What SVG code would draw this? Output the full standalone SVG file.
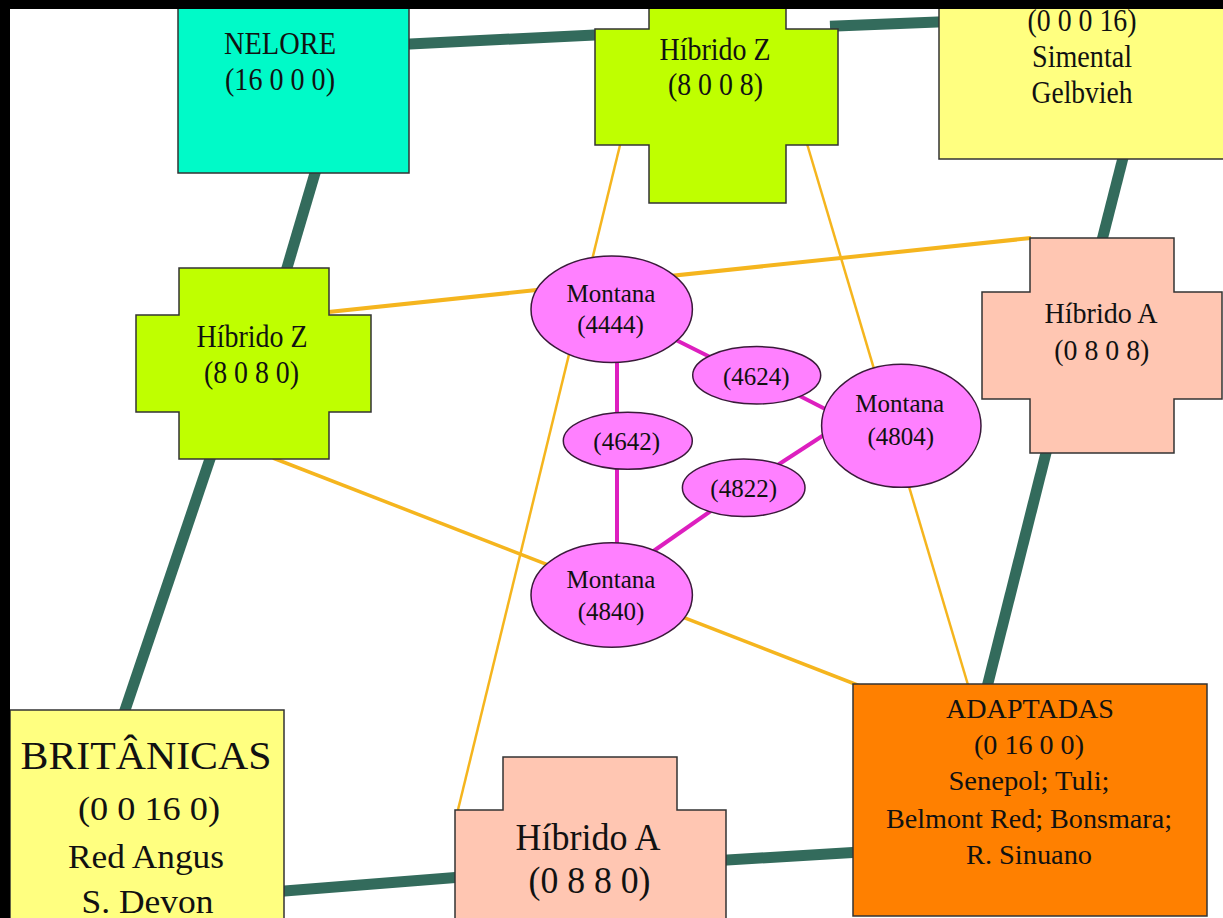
<svg xmlns="http://www.w3.org/2000/svg" width="1223" height="918" viewBox="0 0 1223 918">
  <style>
    .lbl { font-family: "Liberation Serif", "Times New Roman", serif; fill: #111; text-anchor: middle; }
    .box { stroke: #333; stroke-width: 1.5; }
    .oval { fill: #FF80FF; stroke: #3a1a3a; stroke-width: 1.5; }
    .ring { stroke: #336B5C; stroke-width: 11; fill: none; }
    .gold { stroke: #F5B51E; fill: none; }
    .mag { stroke: #DD1FBF; stroke-width: 4; fill: none; }
    .hz { fill: #BFFF00; }
    .ha { fill: #FFC6B2; }
    .pale { fill: #FFFF80; }
  </style>

  <rect x="0" y="0" width="1223" height="918" fill="#ffffff"/>

  <!-- connectors -->
  <g id="connectors">
    <!-- outer ring of thick links -->
    <line class="ring" x1="400" y1="44.4" x2="605" y2="34.5"/>
    <line class="ring" x1="830" y1="26.3" x2="950" y2="21.6"/>
    <line class="ring" x1="1125" y1="150" x2="1100" y2="248"/>
    <line class="ring" x1="1048" y1="445" x2="985" y2="695"/>
    <line class="ring" x1="715" y1="860.7" x2="865" y2="851.8"/>
    <line class="ring" x1="465" y1="876.7" x2="275" y2="891.7"/>
    <line class="ring" x1="122" y1="719" x2="213" y2="450"/>
    <line class="ring" x1="284" y1="278" x2="318" y2="163"/>

    <!-- hybrid cross links -->
    <line class="gold" stroke-width="4" x1="300" y1="315" x2="1031" y2="238"/>
    <line class="gold" stroke-width="2.5" x1="622" y1="137" x2="456" y2="818"/>
    <line class="gold" stroke-width="2.5" x1="805" y1="137" x2="971" y2="695"/>
    <line class="gold" stroke-width="3.5" x1="273" y1="458" x2="860" y2="686"/>

    <!-- Montana links -->
    <line class="mag" x1="617" y1="360" x2="617" y2="548"/>
    <line class="mag" x1="670" y1="337" x2="720" y2="362"/>
    <line class="mag" x1="790" y1="391" x2="835" y2="414"/>
    <line class="mag" x1="830" y1="431" x2="770" y2="470"/>
    <line class="mag" x1="715" y1="508" x2="645" y2="557"/>
  </g>

  <!-- nodes -->
  <g id="nelore">
    <rect class="box" x="178" y="-10" width="231" height="183" fill="#00FAC8"/>
    <text class="lbl" x="280" y="54" font-size="31" textLength="112" lengthAdjust="spacingAndGlyphs">NELORE</text>
    <text class="lbl" x="280" y="90" font-size="31" textLength="110" lengthAdjust="spacingAndGlyphs">(16 0 0 0)</text>
  </g>

  <g id="hibrido-z-8008">
    <polygon class="box hz" points="649,-30 786,-30 786,29 838,29 838,145 786,145 786,203 649,203 649,145 595,145 595,29 649,29"/>
    <text class="lbl" x="715" y="60" font-size="31" textLength="111" lengthAdjust="spacingAndGlyphs">Híbrido Z</text>
    <text class="lbl" x="715.5" y="95" font-size="31" textLength="95" lengthAdjust="spacingAndGlyphs">(8 0 0 8)</text>
  </g>

  <g id="simental">
    <rect class="box pale" x="939" y="-10" width="300" height="169"/>
    <text class="lbl" x="1082" y="30.5" font-size="31" textLength="109" lengthAdjust="spacingAndGlyphs">(0 0 0 16)</text>
    <text class="lbl" x="1082" y="66.7" font-size="31" textLength="100" lengthAdjust="spacingAndGlyphs">Simental</text>
    <text class="lbl" x="1082" y="103" font-size="31" textLength="101" lengthAdjust="spacingAndGlyphs">Gelbvieh</text>
  </g>

  <g id="hibrido-z-8080">
    <polygon class="box hz" points="179,268 329,268 329,315 371,315 371,412 329,412 329,459 179,459 179,412 136,412 136,315 179,315"/>
    <text class="lbl" x="252" y="346.7" font-size="31" textLength="111" lengthAdjust="spacingAndGlyphs">Híbrido Z</text>
    <text class="lbl" x="251.5" y="383" font-size="31" textLength="95" lengthAdjust="spacingAndGlyphs">(8 0 8 0)</text>
  </g>

  <g id="hibrido-a-0808">
    <polygon class="box ha" points="1030,238 1174,238 1174,292 1222,292 1222,399 1174,399 1174,453 1030,453 1030,399 982,399 982,292 1030,292"/>
    <text class="lbl" x="1101" y="323.3" font-size="30" textLength="113" lengthAdjust="spacingAndGlyphs">Híbrido A</text>
    <text class="lbl" x="1101.8" y="360" font-size="30" textLength="95" lengthAdjust="spacingAndGlyphs">(0 8 0 8)</text>
  </g>

  <g id="hibrido-a-0880">
    <polygon class="box ha" points="503,757 677,757 677,810 726,810 726,960 455,960 455,810 503,810"/>
    <text class="lbl" x="588" y="850" font-size="38" textLength="145" lengthAdjust="spacingAndGlyphs">Híbrido A</text>
    <text class="lbl" x="589.5" y="893" font-size="38" textLength="122" lengthAdjust="spacingAndGlyphs">(0 8 8 0)</text>
  </g>

  <g id="britanicas">
    <rect class="box pale" x="10" y="710" width="274" height="230"/>
    <text class="lbl" x="146" y="769" font-size="40" textLength="251" lengthAdjust="spacingAndGlyphs">BRITÂNICAS</text>
    <text class="lbl" x="149" y="820" font-size="33" textLength="142" lengthAdjust="spacingAndGlyphs">(0 0 16 0)</text>
    <text class="lbl" x="146" y="868" font-size="33" textLength="156" lengthAdjust="spacingAndGlyphs">Red Angus</text>
    <text class="lbl" x="147.5" y="913" font-size="33" textLength="132" lengthAdjust="spacingAndGlyphs">S. Devon</text>
  </g>

  <g id="adaptadas">
    <rect class="box" x="853" y="684" width="354" height="232" fill="#FF8000"/>
    <text class="lbl" x="1030" y="718" font-size="28" textLength="168" lengthAdjust="spacingAndGlyphs">ADAPTADAS</text>
    <text class="lbl" x="1029" y="754" font-size="28" textLength="110" lengthAdjust="spacingAndGlyphs">(0 16 0 0)</text>
    <text class="lbl" x="1029" y="790" font-size="28" textLength="161" lengthAdjust="spacingAndGlyphs">Senepol; Tuli;</text>
    <text class="lbl" x="1029" y="828" font-size="28" textLength="286" lengthAdjust="spacingAndGlyphs">Belmont Red; Bonsmara;</text>
    <text class="lbl" x="1029" y="864" font-size="28" textLength="126" lengthAdjust="spacingAndGlyphs">R. Sinuano</text>
  </g>

  <g id="montana-4444">
    <ellipse class="oval" cx="611.7" cy="309.3" rx="80.7" ry="53.3"/>
    <text class="lbl" x="611" y="301.7" font-size="25">Montana</text>
    <text class="lbl" x="610.5" y="333" font-size="25">(4444)</text>
  </g>

  <g id="montana-4624">
    <ellipse class="oval" cx="756.7" cy="375.3" rx="64" ry="28.7"/>
    <text class="lbl" x="756.3" y="385" font-size="25">(4624)</text>
  </g>

  <g id="montana-4804">
    <ellipse class="oval" cx="901.3" cy="425.8" rx="79.7" ry="61.5"/>
    <text class="lbl" x="899.7" y="411.7" font-size="25">Montana</text>
    <text class="lbl" x="900.8" y="445" font-size="25">(4804)</text>
  </g>

  <g id="montana-4642">
    <ellipse class="oval" cx="627.8" cy="440.8" rx="64.5" ry="28.5"/>
    <text class="lbl" x="626.7" y="450" font-size="25">(4642)</text>
  </g>

  <g id="montana-4822">
    <ellipse class="oval" cx="743.7" cy="487.8" rx="61.3" ry="28.8"/>
    <text class="lbl" x="743.7" y="496.7" font-size="25">(4822)</text>
  </g>

  <g id="montana-4840">
    <ellipse class="oval" cx="611.7" cy="595" rx="80.7" ry="52.3"/>
    <text class="lbl" x="611" y="588.3" font-size="25">Montana</text>
    <text class="lbl" x="611" y="620" font-size="25">(4840)</text>
  </g>

  <!-- frame edges along top and left -->
  <rect x="0" y="0" width="1223" height="9" fill="#000"/>
  <rect x="0" y="0" width="10" height="918" fill="#000"/>
</svg>
